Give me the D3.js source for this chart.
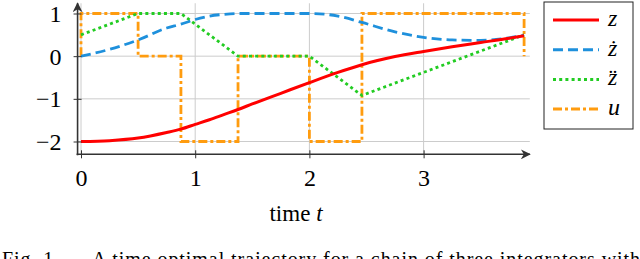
<!DOCTYPE html>
<html>
<head>
<meta charset="utf-8">
<script src="https://cdn.jsdelivr.net/npm/d3@7"></script>
<style>
  body { margin: 0; background: #fff; }
  svg { display: block; font-family: "Liberation Serif", "DejaVu Serif", serif; }
  svg text { font-family: "Liberation Serif", "DejaVu Serif", serif; }
</style>
</head>
<body>
<div class="chart"></div>
<script>
(function () {
  'use strict';

  // data
  var xTicks = [0, 1, 2, 3];
  var yTicks = [-2, -1, 0, 1];
  var yTickLabels = ['\u22122', '\u22121', '0', '1'];

  // position z and velocity z-dot, sampled along time
  var tSmooth = [0, 0.25, 0.5, 0.75, 0.875, 1.0, 1.125, 1.25, 1.375, 1.5, 1.75, 2.0, 2.25, 2.46, 2.75, 3.0, 3.25, 3.5, 3.75, 3.88];
  var zVals   = [-2, -1.98, -1.92, -1.79, -1.71, -1.6, -1.49, -1.37, -1.25, -1.12, -0.87, -0.62, -0.38, -0.2, -0.01, 0.11, 0.22, 0.32, 0.42, 0.48];
  var zdVals  = [0, 0.16, 0.38, 0.66, 0.75, 0.86, 0.94, 0.98, 1.0, 1.0, 1.0, 1.0, 0.94, 0.79, 0.57, 0.44, 0.38, 0.37, 0.43, 0.49];

  // acceleration z-ddot, piecewise linear
  var tAcc   = [0, 0.5, 0.875, 1.375, 2.0, 2.46, 3.88];
  var zddVals = [0.5, 1, 1, 0, 0, -0.92, 0.5];

  // input u, piecewise constant (step corners)
  var tU = [0, 0, 0.5, 0.5, 0.875, 0.875, 1.375, 1.375, 2.0, 2.0, 2.46, 2.46, 3.88, 3.88];
  var uVals = [0, 1, 1, 0, 0, -2, -2, 0, 0, -2, -2, 1, 1, 0];

  var seriesNames = ['z', 'zd', 'zdd', 'u'];
  var seriesColors = ['#ff0000', '#1e90dc', '#22cc22', '#ff9c0f'];
  var seriesDash = [null, '10,5', '3,3.2', '9,3,3,3'];

  var w = 640, h = 259;
  var svg = d3.select('.chart').append('svg').attr('width', w).attr('height', h);

  var x = d3.scaleLinear().domain([0, 3]).range([81, 423.6]);
  var y = d3.scaleLinear().domain([-2, 1]).range([141.5, 13.5]);

  var xMin = -0.03, xMax = 3.93, yMin = -2.3, yMax = 1.24;

  // grid
  var grid = svg.append('g').attr('stroke', '#cccccc').attr('stroke-width', 1);
  grid.selectAll('.gh').data(yTicks).enter().append('line')
    .attr('x1', x(xMin)).attr('x2', x(xMax))
    .attr('y1', function (d) { return y(d); }).attr('y2', function (d) { return y(d); });
  grid.selectAll('.gv').data(xTicks).enter().append('line')
    .attr('y1', y(yMin)).attr('y2', y(yMax))
    .attr('x1', function (d) { return x(d); }).attr('x2', function (d) { return x(d); });

  // curves
  var smooth = d3.line().curve(d3.curveMonotoneX)
    .x(function (d) { return x(d[0]); }).y(function (d) { return y(d[1]); });
  var straight = d3.line()
    .x(function (d) { return x(d[0]); }).y(function (d) { return y(d[1]); });

  var curves = [
    smooth(d3.zip(tSmooth, zVals)),
    smooth(d3.zip(tSmooth, zdVals)),
    straight(d3.zip(tAcc, zddVals)),
    straight(d3.zip(tU, uVals))
  ];

  // draw order: u at the back, then the others
  [3, 2, 1, 0].forEach(function (i) {
    svg.append('path').attr('class', seriesNames[i])
      .attr('d', curves[i])
      .attr('fill', 'none')
      .attr('stroke', seriesColors[i])
      .attr('stroke-width', i === 0 ? 3 : 2.8)
      .attr('stroke-dasharray', seriesDash[i])
      .attr('stroke-linejoin', 'miter');
  });

  // axes
  var axisColor = '#333333';
  var xAxis = svg.append('g').attr('transform', 'translate(0,' + y(yMin) + ')')
    .call(d3.axisBottom(x).tickValues(xTicks).tickSize(4).tickPadding(11).tickFormat(d3.format('d')));
  var yAxis = svg.append('g').attr('transform', 'translate(' + x(xMin) + ',0)')
    .call(d3.axisLeft(y).tickValues(yTicks).tickSize(4).tickPadding(12)
      .tickFormat(function (d, i) { return yTickLabels[i]; }));

  [xAxis, yAxis].forEach(function (g) {
    g.attr('font-family', '"Liberation Serif", serif').attr('font-size', 24);
    g.select('.domain').remove();
    g.selectAll('.tick line').attr('stroke', axisColor).attr('stroke-width', 1);
    g.selectAll('.tick text').attr('fill', '#000');
  });
  xAxis.selectAll('.tick line').attr('y1', -4).attr('y2', 4);
  xAxis.selectAll('.tick text').attr('dy', '0.71em');
  yAxis.selectAll('.tick line').attr('x1', -4).attr('x2', 4);
  yAxis.selectAll('.tick text').attr('dy', '0.33em');

  var defs = svg.append('defs');
  defs.append('marker').attr('id', 'arrow').attr('viewBox', '0 0 10 10')
    .attr('refX', 9).attr('refY', 5).attr('markerWidth', 10).attr('markerHeight', 10)
    .attr('markerUnits', 'userSpaceOnUse').attr('orient', 'auto')
    .append('path').attr('d', 'M0,0 L10,5 L0,10 L3,5 Z').attr('fill', axisColor);

  svg.append('line').attr('x1', x(xMin) - 1).attr('x2', x(xMax))
    .attr('y1', y(yMin)).attr('y2', y(yMin))
    .attr('stroke', axisColor).attr('stroke-width', 1.6).attr('marker-end', 'url(#arrow)');
  svg.append('line').attr('x1', x(xMin)).attr('x2', x(xMin))
    .attr('y1', y(yMin) + 1).attr('y2', y(yMax))
    .attr('stroke', axisColor).attr('stroke-width', 1.6).attr('marker-end', 'url(#arrow)');

  // axis title
  var xt = svg.append('text').attr('x', 296).attr('y', 221).attr('text-anchor', 'middle')
    .attr('font-size', 23);
  xt.append('tspan').text('time ');
  xt.append('tspan').attr('font-style', 'italic').text('t');

  // legend
  var lx = 544, ly = 2, lw = 89, lh = 127;
  var legend = svg.append('g');
  legend.append('rect').attr('x', lx).attr('y', ly).attr('width', lw).attr('height', lh)
    .attr('fill', '#fff').attr('stroke', '#222').attr('stroke-width', 1);
  var legendLabels = ['z', '\u017C', 'z\u0308', 'u'];
  var rows = d3.range(4);
  rows.forEach(function (i) {
    var ry = 20 + i * 29.7;
    legend.append('line').attr('x1', 553).attr('x2', 599).attr('y1', ry).attr('y2', ry)
      .attr('stroke', seriesColors[i]).attr('stroke-width', 3)
      .attr('stroke-dasharray', seriesDash[i]);
    legend.append('text').attr('x', 608).attr('y', ry + 6)
      .attr('font-size', 24).attr('font-style', 'italic').text(legendLabels[i]);
  });

  // caption (cut off by the bottom edge, as in the source figure)
  svg.append('text').attr('x', 2).attr('y', 266).attr('font-size', 20)
    .attr('textLength', 638).attr('lengthAdjust', 'spacing')
    .text('Fig. 1.\u2003\u2002A time optimal trajectory for a chain of three integrators with');
})();
</script>
</body>
</html>
